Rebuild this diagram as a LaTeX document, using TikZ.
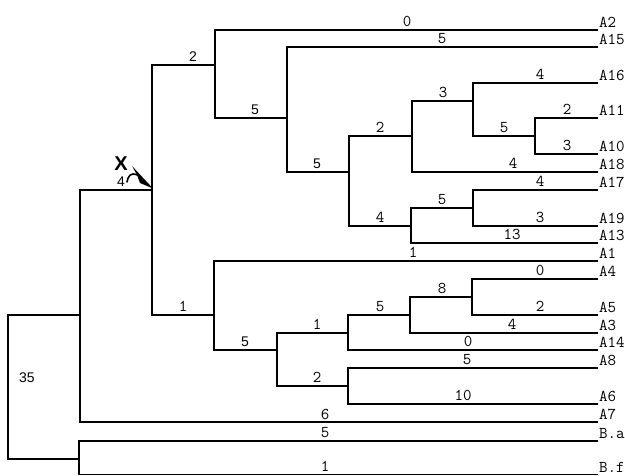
\documentclass[tikz,border=0pt]{standalone}
\usepackage{fontspec}
\setsansfont{Liberation Sans}
\begin{document}
\begin{tikzpicture}[x=1pt,y=-1pt,
  br/.style={line width=1.1pt, line join=miter},
  tl/.style={font=\ttfamily\fontsize{16.5}{16.5}\selectfont, anchor=base, inner sep=0pt},
  sl/.style={font=\sffamily\fontsize{14}{14}\selectfont, anchor=base, inner sep=0pt},
  leaf/.style={font=\ttfamily\fontsize{16.5}{16.5}\selectfont, anchor=base west, inner sep=0pt}]
\useasboundingbox (0,0) rectangle (625,476);
% internal nodes
\coordinate (r) at (8,387);
\coordinate (ing) at (80,315);
\coordinate (bn) at (79,459);
\coordinate (a) at (152,190);
\coordinate (b) at (215,65);
\coordinate (c) at (287,118);
\coordinate (d) at (349,172);
\coordinate (e) at (412,136);
\coordinate (f) at (473,101);
\coordinate (g) at (535,136);
\coordinate (h) at (411,226);
\coordinate (i) at (473,208);
\coordinate (j) at (214,315);
\coordinate (k) at (277,350);
\coordinate (l) at (348,333);
\coordinate (m) at (410,315);
\coordinate (n) at (472,297);
\coordinate (o) at (348,386);
% leaf ends
\foreach \nm/\yy/\tx in {A2/30/A2, A15/47/A15, A16/83/A16, A11/118/A11, A10/154/A10,
  A18/172/A18, A17/190/A17, A19/226/A19, A13/243/A13, A1/261/A1, A4/279/A4,
  A5/315/A5, A3/333/A3, A14/350/A14, A8/368/A8, A6/404/A6, A7/422/A7,
  Ba/441/B.a, Bf/474.5/B.f}{
  \coordinate (l\nm) at (598,\yy);
  \node[leaf] (t\nm) at ([shift={(1,-2.5)}]l\nm) {\tx};
}
% branches
\draw[br] (r) |- (ing);
\draw[br] (r) |- (bn);
\draw[br] (ing) |- (a);
\draw[br] (ing) |- (lA7);
\draw[br] (bn) |- (lBa);
\draw[br] (bn) |- (lBf);
\draw[br] (a) |- (b);
\draw[br] (a) |- (j);
\draw[br] (b) |- (lA2);
\draw[br] (b) |- (c);
\draw[br] (c) |- (lA15);
\draw[br] (c) |- (d);
\draw[br] (d) |- (e);
\draw[br] (d) |- (h);
\draw[br] (e) |- (f);
\draw[br] (e) |- (lA18);
\draw[br] (f) |- (lA16);
\draw[br] (f) |- (g);
\draw[br] (g) |- (lA11);
\draw[br] (g) |- (lA10);
\draw[br] (h) |- (i);
\draw[br] (h) |- (lA13);
\draw[br] (i) |- (lA17);
\draw[br] (i) |- (lA19);
\draw[br] (j) |- (lA1);
\draw[br] (j) |- (k);
\draw[br] (k) |- (l);
\draw[br] (k) |- (o);
\draw[br] (l) |- (m);
\draw[br] (l) |- (lA14);
\draw[br] (m) |- (n);
\draw[br] (m) |- (lA3);
\draw[br] (n) |- (lA4);
\draw[br] (n) |- (lA5);
\draw[br] (o) |- (lA8);
\draw[br] (o) |- (lA6);
% branch length labels (sans)
\node[sl] (w1) at (121,187) {4};
\node[sl] (w2) at (193,62) {2};
\node[sl] (w3) at (255,115) {5};
\node[sl] (w4) at (317,169) {5};
\node[sl] (w5) at (245,347) {5};
% branch length labels (typewriter)
\foreach \xx/\yy/\tx [count=\q] in {183/315/1, 407/30/0, 442/47/5, 380/136/2, 380/226/4,
  443/101/3, 513/172/4, 540/83/4, 504/136/5, 567/118/2, 567/154/3, 442/208/5,
  512/243/13, 540/190/4, 540/226/3, 413/261/1, 317/333/1, 317/386/2, 380/315/5,
  468/350/0, 442/297/8, 512/333/4, 540/279/0, 540/315/2, 467/368/5, 463/404/10,
  325/422/6, 325/441/5, 325/474.5/1}{
  \node[tl] (v\q) at (\xx,\yy-3) {\tx};
}
\node[font=\sffamily\fontsize{14}{14}\selectfont, inner sep=0pt] (n35) at (27,378) {35};
\node[font=\sffamily\bfseries\fontsize{20}{20}\selectfont, inner sep=0pt] (X) at (121,164) {X};
% curved pointer to node a
\coordinate (ptip) at (153,188.5);
\draw[line width=1.6pt, line cap=round] (127,182) .. controls (128,176) and (131,172) .. (137,175);
\fill (ptip) -- (132,166) -- (137,175) -- (140,183) -- cycle;
\end{tikzpicture}
\end{document}
